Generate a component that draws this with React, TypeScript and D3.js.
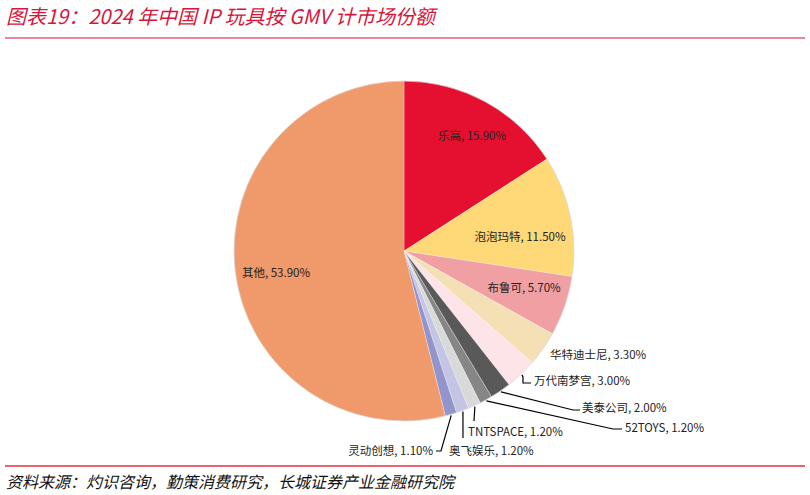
import React from 'react';
import * as d3 from 'd3';

const names = ['乐高', '泡泡玛特', '布鲁可', '华特迪士尼', '万代南梦宫', '美泰公司', '52TOYS', 'TNTSPACE', '奥飞娱乐', '灵动创想', '其他'];
const shares = [15.9, 11.5, 5.7, 3.3, 3.0, 2.0, 1.2, 1.2, 1.2, 1.1, 53.9];
const colors = ['#E5102F', '#FFD878', '#F0A0A2', '#F5DFB5', '#FCE4E8', '#595959', '#868686', '#D9D9D9', '#C4C4E4', '#9494CC', '#F0996A'];

const title = '图表19：2024 年中国 IP 玩具按 GMV 计市场份额';
const source = '资料来源：灼识咨询，勤策消费研究，长城证券产业金融研究院';

const W = 810;
const H = 495;
const cx = 404;
const cy = 251;
const R = 170;

// label placement (text position + optional leader line elbows)
type Lbl = { x: number; y: number; anchor: string; pts?: [number, number][] };
const layout: Lbl[] = [
  { x: 472, y: 135, anchor: 'middle' },
  { x: 520, y: 236, anchor: 'middle' },
  { x: 524, y: 287, anchor: 'middle' },
  { x: 550, y: 354, anchor: 'start' },
  { x: 534, y: 380, anchor: 'start', pts: [[523, 377], [523, 383], [531, 383]] },
  { x: 582, y: 407, anchor: 'start', pts: [[573, 410], [580, 410]] },
  { x: 625, y: 427, anchor: 'start', pts: [[613, 429], [622, 429]] },
  { x: 468, y: 431, anchor: 'start', pts: [[474, 421]] },
  { x: 449, y: 450, anchor: 'start', pts: [[463, 438]] },
  { x: 433, y: 450, anchor: 'end', pts: [[441, 451], [436, 451]] },
  { x: 276, y: 272, anchor: 'middle' },
];

const font = '"Noto Sans CJK SC", "Noto Sans", sans-serif';

export default function App() {
  const data = names.map((n, i) => ({ name: n, value: shares[i], i }));
  const pie = d3.pie<{ name: string; value: number; i: number }>().sort(null).value(d => d.value);
  const arcs = pie(data);
  const arc = d3.arc<d3.PieArcDatum<{ name: string; value: number; i: number }>>().innerRadius(0).outerRadius(R);

  const polar = (a: number, r: number): [number, number] => [cx + r * Math.sin(a), cy - r * Math.cos(a)];

  return (
    <svg width={W} height={H} style={{ position: 'absolute', left: 0, top: 0, background: '#fff' }}>
      <text x={6} y={24} fontSize={20} fontStyle="italic" fill="#D8163C" fontFamily={font}>{title}</text>
      <line x1={5} x2={805} y1={38} y2={38} stroke="#E8899B" strokeWidth={2} />
      <g transform={`translate(${cx},${cy})`}>
        {arcs.map(a => (
          <path key={a.data.name} d={arc(a) || ''} fill={colors[a.data.i]} stroke="#fff" strokeWidth={0.3} />
        ))}
      </g>
      <circle cx={cx} cy={cy} r={R} fill="none" stroke="#d0d0d0" strokeWidth={0.6} />
      {arcs.map(a => {
        const L = layout[a.data.i];
        const mid = (a.startAngle + a.endAngle) / 2;
        const label = `${a.data.name}, ${a.data.value.toFixed(2)}%`;
        const start = polar(mid, R + 1);
        return (
          <g key={a.data.name}>
            {L.pts && (
              <polyline points={[start, ...L.pts].map(p => p.join(',')).join(' ')} fill="none" stroke="#000" strokeWidth={1.2} />
            )}
            <text x={L.x} y={L.y} textAnchor={L.anchor} dominantBaseline="central" fontSize={11.5} fill="#222" fontFamily={font}>{label}</text>
          </g>
        );
      })}
      <line x1={5} x2={805} y1={466} y2={466} stroke="#E0323F" strokeWidth={1.5} />
      <text x={6} y={488} fontSize={16} fontStyle="italic" fill="#111" fontFamily={font}>{source}</text>
    </svg>
  );
}
